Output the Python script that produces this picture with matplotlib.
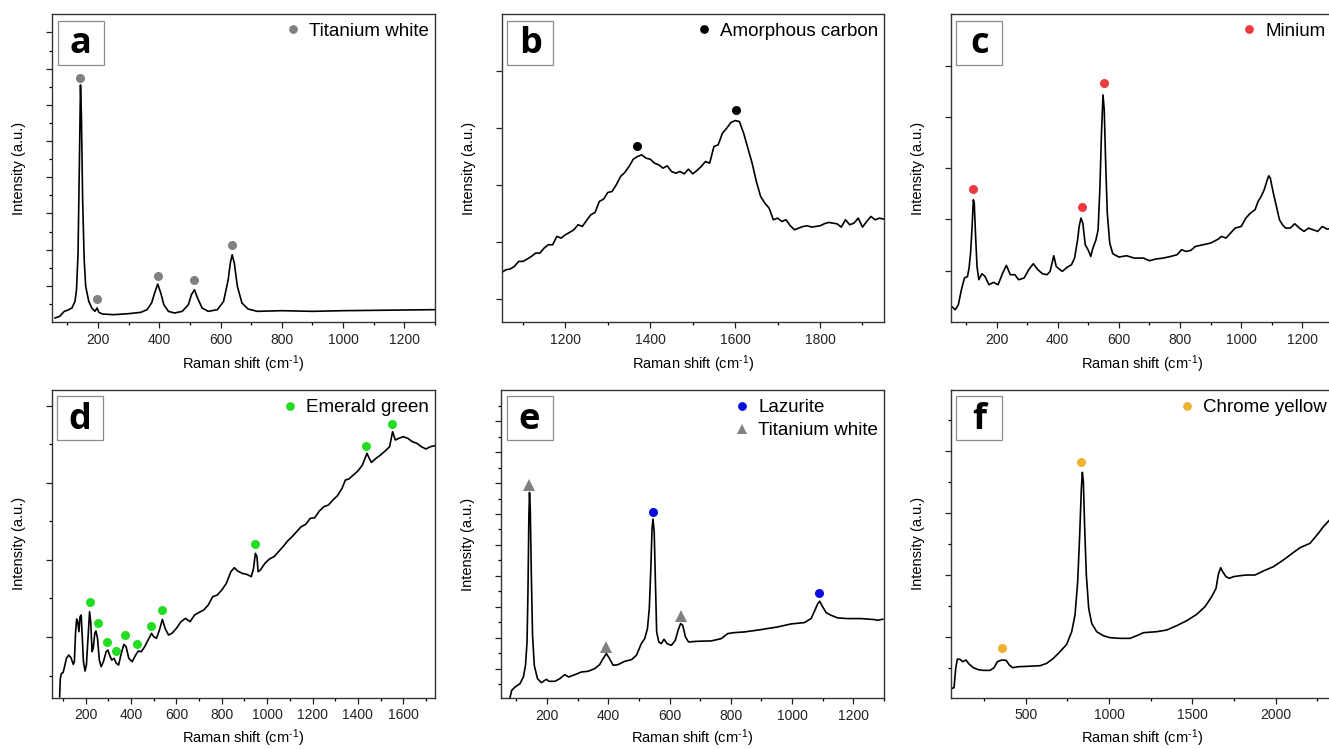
import numpy as np
import matplotlib
matplotlib.use("Agg")
import matplotlib.pyplot as plt
from matplotlib.lines import Line2D
from matplotlib.patches import Rectangle
from matplotlib.ticker import MultipleLocator, FixedLocator, NullLocator

plt.rcParams['font.family'] = ['Liberation Sans', 'DejaVu Sans']
plt.rcParams['mathtext.fontset'] = 'custom'
plt.rcParams['mathtext.rm'] = 'Liberation Sans'
plt.rcParams['mathtext.default'] = 'regular'

# ---------------- data (x: Raman shift cm-1, y: intensity a.u.) ----------------
a_x = [60, 75, 90, 100, 115, 125, 130, 135, 140, 143, 146, 150, 155, 160, 170, 180, 190, 197, 203, 215,
       250, 300, 340, 360, 375, 385, 395, 405, 415, 430, 450, 475, 495, 505, 515, 525, 540, 560, 590, 610,
       625, 632, 638, 645, 655, 670, 690, 720, 800, 900, 1000, 1100, 1200, 1300]
a_y = [12, 17, 32, 35, 42, 62, 97, 207, 517, 712, 617, 367, 187, 107, 62, 42, 32, 42, 29, 24,
       22, 25, 29, 37, 57, 87, 114, 87, 52, 32, 27, 32, 52, 82, 97, 72, 42, 32, 37, 62,
       127, 177, 202, 177, 107, 57, 39, 32, 34, 32, 34, 35, 36, 37]
a_mx = [143, 198, 395, 515, 638]
a_my = [734, 69, 137, 127, 232]

b_x = list(range(1050, 1951, 10))
b_y = [149, 157, 159, 167, 182, 182, 189, 197, 207, 207, 222, 232, 232, 257, 252, 262, 269, 277, 292, 287,
       305, 322, 329, 362, 369, 389, 392, 412, 437, 449, 467, 489, 497, 502, 492, 489, 477, 472, 462, 469,
       452, 447, 452, 445, 459, 445, 455, 467, 482, 477, 527, 532, 567, 582, 599, 605, 602, 567, 522, 477,
       422, 377, 357, 342, 307, 312, 302, 307, 289, 277, 282, 287, 289, 285, 287, 289, 295, 299, 297, 295,
       285, 307, 292, 297, 312, 285, 302, 317, 307, 312, 309]
b_mx = [1368, 1601]
b_my = [529, 637]

c_x = [55, 65, 75, 85, 95, 105, 110, 115, 120, 124, 127, 131, 136, 142, 152, 162, 175, 190, 205, 220,
       232, 245, 260, 272, 290, 305, 320, 335, 350, 365, 375, 387, 395, 405, 415, 430, 445, 455, 465, 470,
       476, 482, 490, 500, 508, 515, 525, 532, 538, 543, 548, 552, 557, 562, 570, 580, 600, 625, 650, 680,
       700, 720, 745, 770, 790, 805, 820, 835, 850, 875, 900, 925, 935, 950, 965, 980, 1000, 1015, 1030, 1045,
       1055, 1065, 1075, 1085, 1090, 1095, 1105, 1115, 1125, 1135, 1145, 1160, 1175, 1190, 1205, 1220, 1235,
       1250, 1265, 1280, 1300]
c_y = [45, 37, 52, 97, 132, 137, 162, 207, 287, 367, 357, 267, 167, 127, 145, 137, 112, 119, 112, 147,
       170, 142, 142, 127, 132, 157, 175, 157, 145, 142, 152, 199, 167, 159, 152, 164, 172, 192, 247, 287,
       312, 297, 232, 215, 197, 222, 247, 277, 407, 567, 682, 637, 467, 327, 237, 205, 195, 199, 192, 192,
       184, 189, 192, 197, 202, 217, 212, 215, 227, 232, 237, 249, 257, 252, 267, 282, 287, 312, 327, 337,
       362, 377, 397, 427, 439, 432, 387, 347, 307, 292, 282, 282, 295, 282, 272, 282, 277,
       272, 287, 279, 282]
c_mx = [123, 478, 550]
c_my = [399, 345, 719]

d_x = [85, 88, 93, 100, 105, 115, 125, 135, 145, 150, 155, 160, 165, 170, 175, 180, 185, 190, 197, 203,
       210, 217, 222, 228, 233, 240, 245, 252, 260, 268, 278, 290, 298, 305, 315, 325, 335, 345, 355, 368,
       378, 390, 405, 420, 432, 445, 460, 475, 490, 500, 512, 525, 538, 550, 565, 580, 600, 620, 640, 660,
       680, 700, 720, 740, 760, 780, 800, 820, 840, 855, 870, 890, 910, 930, 940, 948, 955, 960, 970, 990,
       1010, 1030, 1050, 1070, 1090, 1110, 1130, 1150, 1170, 1190, 1210, 1230, 1250, 1270, 1290, 1310, 1330,
       1345, 1360, 1380, 1400, 1420, 1440, 1450, 1460, 1480, 1500, 1520, 1540, 1553, 1565, 1580, 1600, 1620,
       1640, 1660, 1680, 1700, 1720, 1740]
d_y = [3, 58, 73, 75, 88, 118, 128, 120, 100, 108, 193, 236, 228, 198, 243, 248, 178, 108, 80, 98,
       178, 258, 228, 138, 148, 193, 200, 178, 113, 93, 108, 138, 143, 128, 113, 118, 103, 98, 128, 160,
       153, 118, 108, 128, 140, 138, 153, 173, 193, 183, 178, 203, 235, 208, 188, 193, 208, 228, 238, 228,
       248, 256, 263, 278, 303, 308, 323, 343, 378, 390, 380, 373, 370, 363, 388, 433, 423, 378, 383, 403,
       416, 423, 438, 453, 470, 483, 498, 513, 520, 538, 540, 560, 573, 578, 593, 606, 628,
       653, 656, 668, 680, 698, 733, 718, 706, 718, 728, 740, 753, 798, 773, 778, 783, 778,
       768, 763, 753, 746, 753, 756]
d_mx = [219, 253, 296, 334, 372, 426, 487, 537, 947, 1435, 1551]
d_my = [286, 224, 166, 140, 188, 161, 216, 262, 462, 756, 821]

e_x = [79, 85, 96, 112, 123, 130, 135, 138, 141, 143, 145.5, 149, 153, 158.6, 169, 182, 193, 199, 206, 226,
       242, 258, 271, 291, 313, 334, 356, 372, 383, 394, 403, 416, 432, 454, 476, 492, 508, 519, 528, 534,
       539, 543, 546, 550, 554, 558, 565, 573, 582, 592, 606, 619, 628, 636, 643, 652, 662, 693, 736, 769,
       790, 812, 845, 899, 953, 997, 1040, 1062, 1073, 1084, 1090, 1100, 1111, 1127, 1149, 1181, 1225, 1268,
       1279, 1296]
e_y = [0, 23, 33, 43, 63, 98, 168, 318, 548, 616, 568, 368, 188, 98, 58, 46, 53, 56, 50, 50,
       58, 70, 63, 70, 78, 80, 88, 100, 118, 133, 120, 98, 100, 110, 115, 128, 163, 178, 208, 268,
       388, 508, 536, 498, 348, 198, 168, 163, 176, 163, 158, 173, 203, 223, 218, 183, 168, 170, 171, 178,
       193, 196, 198, 205, 213, 222, 226, 238, 260, 283, 290, 273, 256, 248, 240, 238, 238, 235,
       233, 236]
e_tw_x = [141, 394, 636]
e_tw_y = [638, 153, 245]
e_lz_x = [546, 1089]
e_lz_y = [558, 315]

f_x = [58, 70, 80, 90, 106, 122, 142, 162, 186, 216, 246, 286, 310, 330, 356, 382, 402, 422, 456, 506,
       586, 626, 666, 706, 746, 776, 796, 812, 824, 834, 840, 846, 854, 864, 878, 896, 926, 966, 1006, 1066,
       1126, 1176, 1206, 1286, 1346, 1406, 1466, 1526, 1576, 1616, 1642, 1656, 1670, 1682, 1702, 1722, 1746,
       1786, 1826, 1876, 1926, 1986, 2046, 2086, 2146, 2206, 2256, 2286, 2320, 2350]
f_y = [28, 30, 88, 116, 115, 108, 113, 100, 90, 84, 82, 82, 90, 108, 113, 112, 98, 90, 93, 94,
       96, 103, 118, 138, 160, 198, 248, 348, 488, 628, 676, 648, 508, 368, 268, 223, 198, 186, 180, 178,
       178, 188, 195, 198, 203, 216, 231, 250, 273, 303, 328, 370, 390, 378, 363, 358, 363,
       366, 368, 368, 380, 393, 413, 428, 450, 463, 493, 513, 531, 548]
f_mx = [356, 834]
f_my = [148, 707]

# ---------------- styling ----------------
W, H = 1329, 749
fig = plt.figure(figsize=(W / 100, H / 100), dpi=100)

def px_axes(l, t, r, b):
    return fig.add_axes([l / W, (H - b) / H, (r - l) / W, (b - t) / H])

GRAY = '#808080'
RED = '#EE3A3F'
GREEN = '#22DD22'
BLUE = '#0A0AE0'
YELLOW = '#EEB130'

XLABEL = 'Raman shift (cm$^{\u2010 1}$)'.replace('\u2010 ', '\u2010')

def style(ax, xlim, ylim, xmaj, xmin, ymaj, ymin, letter, lg_handles, lg_anchor, xlabelpad=4.5):
    ax.set_xlim(*xlim)
    ax.set_ylim(*ylim)
    ax.xaxis.set_major_locator(MultipleLocator(xmaj))
    ax.xaxis.set_minor_locator(MultipleLocator(xmin))
    ax.yaxis.set_major_locator(FixedLocator(ymaj))
    ax.yaxis.set_minor_locator(FixedLocator(ymin) if ymin else NullLocator())
    ax.tick_params(axis='both', which='major', direction='out', length=4.2, width=0.9,
                   labelsize=10, colors='#222222')
    ax.tick_params(axis='both', which='minor', direction='out', length=2.3, width=0.9)
    ax.tick_params(axis='y', labelleft=False)
    for s in ax.spines.values():
        s.set_linewidth(1.0)
        s.set_color('#333333')
    ax.set_xlabel(XLABEL, fontsize=10.5, labelpad=xlabelpad)
    ax.set_ylabel('Intensity (a.u.)', fontsize=10.5)
    ax.yaxis.set_label_coords(-0.068, 0.5)
    # letter box
    bw, bh = 46 / 383, 44 / 308
    bx, by = 5.5 / 383, 1 - 6.5 / 308 - bh
    ax.add_patch(Rectangle((bx, by), bw, bh, transform=ax.transAxes, fill=False,
                           edgecolor='#8c8c8c', lw=0.9, zorder=5))
    ax.text(bx + bw / 2, by + bh / 2 - 0.005, letter, transform=ax.transAxes, ha='center', va='center',
            fontsize=26, fontweight='bold', family='Open Sans', zorder=6)
    ax.legend(handles=lg_handles, loc='upper right', bbox_to_anchor=lg_anchor, frameon=False,
              fontsize=13.5, handlelength=0.8, handletextpad=0.45, borderpad=0, borderaxespad=0,
              labelspacing=0.3)

def mk(color, marker='o', label=''):
    return Line2D([], [], ls='none', marker=marker, color=color, markersize=6.3 if marker == 'o' else 7.5,
                  markeredgewidth=0, label=label)

LW = 1.2
MS = 6.5

# a
ax = px_axes(52, 14, 435, 322)
ax.plot(a_x, a_y, color='black', lw=LW)
ax.plot(a_mx, a_my, 'o', color=GRAY, ms=MS, mew=0)
style(ax, (50, 1300), (0, 925), 200, 100, [108.7 * k for k in range(1, 9)],
      [108.7 * (k + 0.5) for k in range(0, 8)], 'a', [mk(GRAY, label='Titanium white')], (0.985, 0.972))

# b
ax = px_axes(501.7, 14, 883.7, 322)
ax.plot(b_x, b_y, color='black', lw=LW)
ax.plot(b_mx, b_my, 'o', color='black', ms=MS, mew=0)
style(ax, (1050, 1950), (0, 925), 200, 100, [69, 240.3, 411.6, 582.9, 754.2], None,
      'b', [mk('black', label='Amorphous carbon')], (0.985, 0.972))

# c
ax = px_axes(950.7, 14, 1333, 322)
ax.plot(c_x, c_y, color='black', lw=LW)
ax.plot(c_mx, c_my, 'o', color=RED, ms=MS, mew=0)
style(ax, (50, 1300), (0, 925), 200, 100, [154, 308, 462, 616, 770], None,
      'c', [mk(RED, label='Minium')], (0.98, 0.972))

# d
ax = px_axes(51.7, 390, 435, 697.7)
ax.plot(d_x, d_y, color='black', lw=LW)
ax.plot(d_mx, d_my, 'o', color=GREEN, ms=MS, mew=0)
style(ax, (50, 1740), (0, 923), 200, 100, [182, 413, 645, 875], [66, 298, 530, 760],
      'd', [mk(GREEN, label='Emerald green')], (0.985, 0.97), xlabelpad=3.5)

# e
ax = px_axes(501, 390, 884, 698)
ax.plot(e_x, e_y, color='black', lw=LW)
ax.plot(e_lz_x, e_lz_y, 'o', color=BLUE, ms=MS, mew=0)
ax.plot(e_tw_x, e_tw_y, '^', color=GRAY, ms=8, mew=0)
style(ax, (50, 1300), (0, 923), 200, 100, [88 + 92.7 * k for k in range(9)],
      [41.6 + 92.7 * k for k in range(10)], 'e',
      [mk(BLUE, label='Lazurite'), mk(GRAY, '^', label='Titanium white')], (0.985, 0.97), xlabelpad=3.5)

# f
ax = px_axes(950.7, 390, 1334, 697.7)
ax.plot(f_x, f_y, color='black', lw=LW)
ax.plot(f_mx, f_my, 'o', color=YELLOW, ms=MS, mew=0)
style(ax, (50, 2350), (0, 923), 500, 250, [183, 368.6, 554.2, 739.8], [90, 275.8, 461.4, 647, 832.6],
      'f', [mk(YELLOW, label='Chrome yellow')], (0.98, 0.97), xlabelpad=3.5)

fig.savefig('out.png', dpi=100)
